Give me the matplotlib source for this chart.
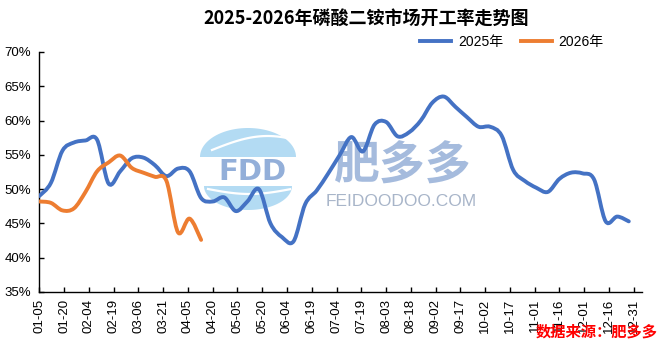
import numpy as np
import matplotlib
matplotlib.use('Agg')
import matplotlib.pyplot as plt
from matplotlib.path import Path
from matplotlib.patches import PathPatch, Polygon
from matplotlib.lines import Line2D

plt.rcParams['font.family'] = ['Liberation Sans', 'Noto Sans CJK SC']

# 开工率数据 (%), 每周一个点
rate_2025 = [49.0, 50.9, 55.6, 56.8, 57.1, 57.2, 50.8, 52.6, 54.5, 54.6,
             53.5, 51.9, 53.0, 52.6, 48.7, 48.2, 48.8, 46.8, 48.2, 50.0,
             45.0, 43.0, 42.4, 47.8, 49.8, 52.3, 55.0, 57.6, 55.5, 59.4,
             59.8, 57.7, 58.3, 60.0, 62.6, 63.5, 62.0, 60.5, 59.1, 59.1,
             57.8, 52.8, 51.2, 50.2, 49.6, 51.5, 52.4, 52.3, 51.4, 45.3,
             46.0, 45.3]
rate_2026 = [48.2, 48.0, 46.9, 47.2, 49.6, 52.6, 53.9, 54.9, 53.1, 52.4,
             51.8, 51.2, 43.7, 45.7, 42.6]
day_step = 7  # 周数据

tick_labels = ['01-05', '01-20', '02-04', '02-19', '03-06', '03-21', '04-05',
               '04-20', '05-05', '05-20', '06-04', '06-19', '07-04', '07-19',
               '08-03', '08-18', '09-02', '09-17', '10-02', '10-17', '11-01',
               '11-16', '12-01', '12-16', '12-31']
y_ticks = [35, 40, 45, 50, 55, 60, 65, 70]

BLUE = '#4472C4'
ORANGE = '#ED7D31'

W, H = 665, 349


def fx(px):
    return px / W


def fy(py):
    return 1 - py / H


# 平滑曲线 (类似Excel的平滑线)
def smooth_line(ax, x, y, color):
    n = len(x)
    verts = [(x[0], y[0])]
    codes = [Path.MOVETO]
    for i in range(n - 1):
        p0 = i - 1 if i > 0 else i
        p3 = i + 2 if i + 2 < n else i + 1
        c1 = (x[i] + (x[i + 1] - x[p0]) / 6, y[i] + (y[i + 1] - y[p0]) / 6)
        c2 = (x[i + 1] - (x[p3] - x[i]) / 6, y[i + 1] - (y[p3] - y[i]) / 6)
        verts += [c1, c2, (x[i + 1], y[i + 1])]
        codes += [Path.CURVE4] * 3
    patch = PathPatch(Path(verts, codes), fill=False, edgecolor=color,
                      lw=2.8, capstyle='round', joinstyle='round', zorder=5)
    ax.add_patch(patch)


fig = plt.figure(figsize=(W / 100, H / 100), dpi=100)

# 水印 (在曲线下面)
t = np.linspace(0, np.pi, 60)
upper = np.column_stack([fx(248 + 48 * np.cos(t)), fy(157 - 29 * np.sin(t))])
lower = np.column_stack([fx(248 + 44 * np.cos(t)), fy(186 + 24 * np.sin(t))])
for pts in (upper, lower):
    fig.patches.append(Polygon(pts, closed=True, transform=fig.transFigure,
                               facecolor='#b3dbf3', edgecolor='none',
                               zorder=0.1))
s = np.linspace(0, 1, 30)
fig.lines.append(Line2D(fx(212 + 78 * s), fy(150 - 14 * np.sin(s * 2.2)),
                        transform=fig.transFigure, color='white', lw=1.6,
                        zorder=0.2))
fig.lines.append(Line2D(fx(208 + 82 * s), fy(189 + 5 * np.sin(s * 3.1)),
                        transform=fig.transFigure, color='white', lw=1.6,
                        zorder=0.2))
fig.text(fx(252), fy(172), 'FDD', fontsize=21, fontweight='bold',
         family='DejaVu Sans', color='#93afd9', ha='center', va='center',
         zorder=0.3)
fig.text(fx(403), fy(167), '肥多多', fontsize=33, fontweight='bold',
         family='Noto Sans CJK SC', color='#a5bbdd', ha='center',
         va='center', zorder=0.3)
fig.text(fx(401), fy(201), 'FEIDOODOO.COM', fontsize=12.5,
         color='#a8b5c9', ha='center', va='center', zorder=0.3)

ax = fig.add_axes([fx(39.3), fy(292), fx(642 - 39.3), (292 - 52) / H])
ax.set_zorder(1)
ax.patch.set_alpha(0)

x25 = np.arange(len(rate_2025)) * day_step
x26 = np.arange(len(rate_2026)) * day_step
smooth_line(ax, x25, rate_2025, BLUE)
smooth_line(ax, x26, rate_2026, ORANGE)

ax.set_xlim(0, 365)
ax.set_ylim(35, 70)
ax.set_xticks(np.arange(len(tick_labels)) * 15)
ax.set_xticklabels(tick_labels, rotation=90, fontsize=9.5)
ax.set_yticks(y_ticks)
ax.set_yticklabels([f'{v}%' for v in y_ticks], fontsize=9.5)
ax.tick_params(axis='both', direction='in', length=3.5, width=1)
ax.tick_params(axis='x', pad=5)
ax.tick_params(axis='y', pad=6)
for side in ['top', 'right']:
    ax.spines[side].set_visible(False)
for side in ['left', 'bottom']:
    ax.spines[side].set_linewidth(1)
    ax.spines[side].set_color('black')

fig.text(fx(366), fy(18), '2025-2026年磷酸二铵市场开工率走势图',
         fontsize=13, fontweight='bold', family='Noto Sans CJK SC',
         ha='center', va='center', zorder=3)

handles = [Line2D([], [], color=BLUE, lw=2.8),
           Line2D([], [], color=ORANGE, lw=2.8)]
leg = fig.legend(handles, ['2025年', '2026年'], loc='center',
                 bbox_to_anchor=(fx(512), fy(42)), ncol=2, frameon=False,
                 fontsize=10, handlelength=2.2, handletextpad=0.5,
                 columnspacing=1.3)
leg.set_zorder(3)

src = fig.text(fx(658), fy(332), '数据来源：肥多多', fontsize=11,
               fontweight='bold', family='Noto Sans CJK SC', color='red',
               ha='right', va='center', fontstyle='italic', zorder=4)

fig.savefig('out.png', dpi=100)
